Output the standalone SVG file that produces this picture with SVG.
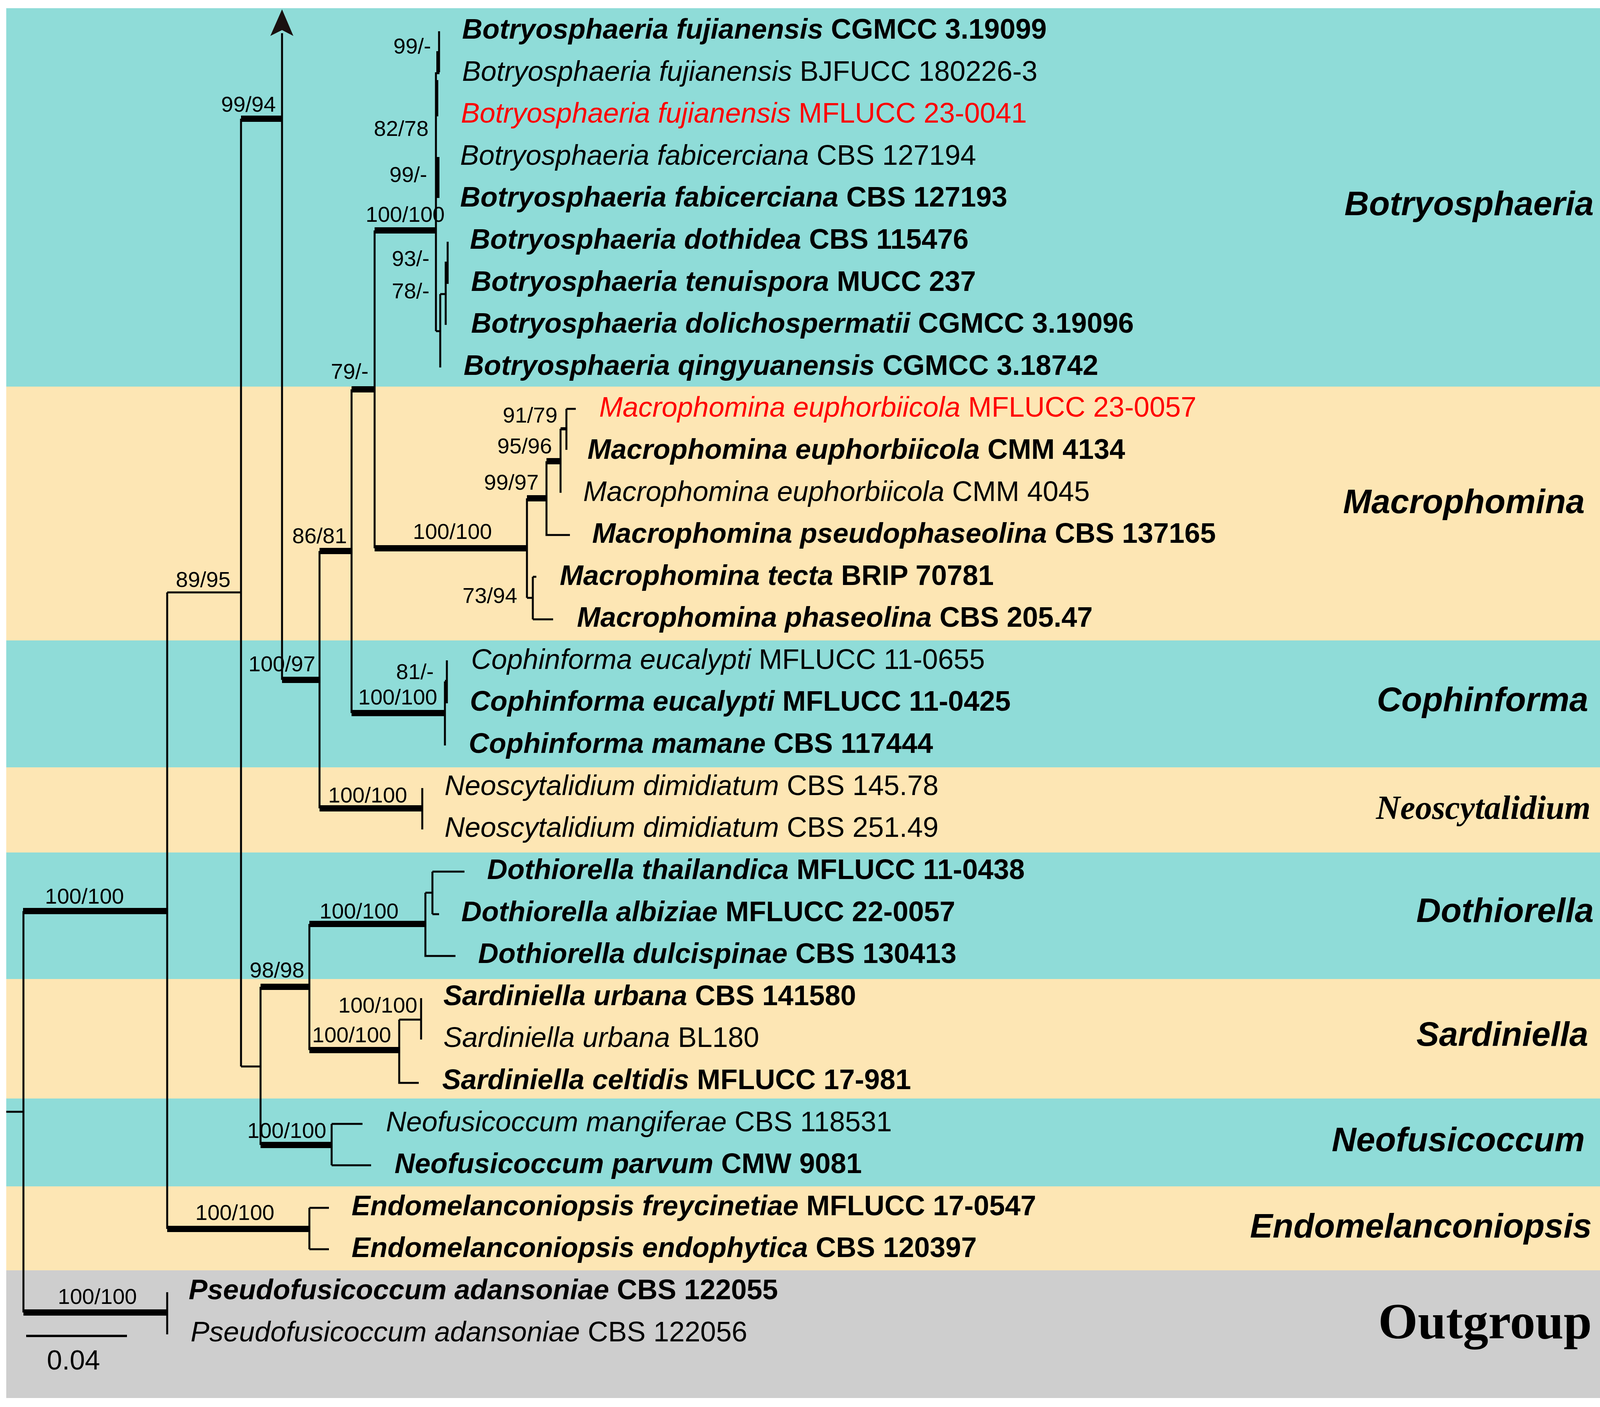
<svg xmlns="http://www.w3.org/2000/svg" width="4394" height="3603" viewBox="0 0 4394 3603">
<style>
.t{font-family:"Liberation Sans",Arial,sans-serif;font-size:72px;fill:#000}
.b{font-weight:bold}
.i{font-style:italic}
.red{fill:#FF0000}
.sup{font-family:"Liberation Sans",Arial,sans-serif;font-size:56px;fill:#000}
.cl{font-family:"Liberation Sans",Arial,sans-serif;font-size:87px;font-weight:bold;font-style:italic;fill:#000}
.cls{font-family:"Liberation Serif","Times New Roman",serif;font-weight:bold;fill:#000}
.thin{stroke:#000;stroke-width:5;fill:none}
.mid{stroke:#000;stroke-width:8;fill:none}
.thick{stroke:#000;stroke-width:16;fill:none}
.teal{fill:#8FDCD8}
.beige{fill:#FDE6B4}
.gray{fill:#CECECE}
</style>
<rect x="0" y="0" width="4394" height="3603" fill="#FFFFFF"/>
<g id="bands">
<rect class="teal" x="16" y="21" width="4351" height="970"/>
<rect class="beige" x="16" y="990" width="4351" height="651"/>
<rect class="teal" x="16" y="1640" width="4351" height="326"/>
<rect class="beige" x="16" y="1965" width="4351" height="219"/>
<rect class="teal" x="16" y="2183" width="4351" height="325"/>
<rect class="beige" x="16" y="2507" width="4351" height="307"/>
<rect class="teal" x="16" y="2813" width="4351" height="226"/>
<rect class="beige" x="16" y="3038" width="4351" height="216"/>
<rect class="gray" x="16" y="3253" width="4351" height="327"/>
</g>
<g id="connectors">
<path class="thin" d="M16,2847H60M60,2333V3361M428,3309V3417M428,1517V3147M428,1517H617M617,304V2731M722,85V1741M818,1411V2070M900,997V1826M959,590V1404"/>
<path class="thin" d="M1124,80V185M1116,185V848M1116,848H1127M1127,753V941M1127,753H1141M1141,670V832M1146,619V727"/>
<path class="mid" d="M1121,131V190M1118,205V298M1121,402V507M1144,670V727"/>
<path class="thin" d="M1349,1276V1531M1399,1181V1370H1459M1435,1098V1262M1450,1047V1152M1450,1047H1474M1349,1531H1364M1364,1477V1586M1364,1477H1373M1364,1586H1416"/>
<path class="thin" d="M1139,1745V1909M1144,1691V1801M1081,2018V2124"/>
<path class="thin" d="M617,2731H667M667,2527V2932M792,2366V2689M1089,2286V2448H1166M1089,2286H1107M1107,2232V2341M1107,2232H1189M1107,2341H1124"/>
<path class="thin" d="M1022,2611V2773H1072M1022,2611H1078M1078,2556V2662"/>
<path class="thin" d="M849,2878V2984M849,2878H928M849,2984H950M792,3093V3199M792,3093H842M792,3199H842"/>
<path class="thick" d="M59,2333H428M60,3361H428M617,304H722M722,1741H818M818,1411H900M818,2070H1081M900,997H959M959,590H1116M959,1404H1349M1349,1276H1399M1399,1181H1435M900,1826H1139M667,2527H792M792,2366H1089M792,2689H1022M667,2932H849M428,3147H792"/>
<path class="mid" d="M1435,1098H1450M1139,1745H1144"/>
<path stroke="#000" stroke-width="6" fill="none" d="M67,3421H325"/>
<polygon points="722,24 692,92 722,77 751,92" fill="#1a1010"/>
</g>
<g id="supports">
<text class="sup" x="148" y="3339">100/100</text>
<text class="sup" x="120" y="3507" style="font-size:70px">0.04</text>
<text class="sup" x="115" y="2314">100/100</text>
<text class="sup" x="450" y="1503">89/95</text>
<text class="sup" x="566" y="286">99/94</text>
<text class="sup" x="636" y="1719">100/97</text>
<text class="sup" x="748" y="1391">86/81</text>
<text class="sup" x="840" y="2055">100/100</text>
<text class="sup" x="847" y="970">79/-</text>
<text class="sup" x="936" y="568">100/100</text>
<text class="sup" x="1007" y="137">99/-</text>
<text class="sup" x="957" y="348">82/78</text>
<text class="sup" x="997" y="466">99/-</text>
<text class="sup" x="1003" y="681">93/-</text>
<text class="sup" x="1003" y="764">78/-</text>
<text class="sup" x="1057" y="1380">100/100</text>
<text class="sup" x="1239" y="1254">99/97</text>
<text class="sup" x="1273" y="1161">95/96</text>
<text class="sup" x="1287" y="1082">91/79</text>
<text class="sup" x="1184" y="1544">73/94</text>
<text class="sup" x="1014" y="1739">81/-</text>
<text class="sup" x="917" y="1804">100/100</text>
<text class="sup" x="639" y="2503">98/98</text>
<text class="sup" x="818" y="2352">100/100</text>
<text class="sup" x="866" y="2593">100/100</text>
<text class="sup" x="799" y="2669">100/100</text>
<text class="sup" x="633" y="2914">100/100</text>
<text class="sup" x="500" y="3124">100/100</text>
</g>
<g id="taxon-1"><text class="t b" x="1183" y="99"><tspan class="i">Botryosphaeria fujianensis</tspan> CGMCC 3.19099</text></g>
<g id="taxon-2"><text class="t" x="1183" y="207"><tspan class="i">Botryosphaeria fujianensis</tspan> BJFUCC 180226-3</text></g>
<g id="taxon-3"><text class="t red" x="1180" y="314"><tspan class="i">Botryosphaeria fujianensis</tspan> MFLUCC 23-0041</text></g>
<g id="taxon-4"><text class="t" x="1178" y="422"><tspan class="i">Botryosphaeria fabicerciana</tspan> CBS 127194</text></g>
<g id="taxon-5"><text class="t b" x="1178" y="529"><tspan class="i">Botryosphaeria fabicerciana</tspan> CBS 127193</text></g>
<g id="taxon-6"><text class="t b" x="1203" y="637"><tspan class="i">Botryosphaeria dothidea</tspan> CBS 115476</text></g>
<g id="taxon-7"><text class="t b" x="1206" y="745"><tspan class="i">Botryosphaeria tenuispora</tspan> MUCC 237</text></g>
<g id="taxon-8"><text class="t b" x="1206" y="852"><tspan class="i">Botryosphaeria dolichospermatii</tspan> CGMCC 3.19096</text></g>
<g id="taxon-9"><text class="t b" x="1187" y="960"><tspan class="i">Botryosphaeria qingyuanensis</tspan> CGMCC 3.18742</text></g>
<g id="taxon-10"><text class="t red" x="1534" y="1067"><tspan class="i">Macrophomina euphorbiicola</tspan> MFLUCC 23-0057</text></g>
<g id="taxon-11"><text class="t b" x="1504" y="1175"><tspan class="i">Macrophomina euphorbiicola</tspan> CMM 4134</text></g>
<g id="taxon-12"><text class="t" x="1493" y="1283"><tspan class="i">Macrophomina euphorbiicola</tspan> CMM 4045</text></g>
<g id="taxon-13"><text class="t b" x="1516" y="1390"><tspan class="i">Macrophomina pseudophaseolina</tspan> CBS 137165</text></g>
<g id="taxon-14"><text class="t b" x="1433" y="1498"><tspan class="i">Macrophomina tecta</tspan> BRIP 70781</text></g>
<g id="taxon-15"><text class="t b" x="1477" y="1605"><tspan class="i">Macrophomina phaseolina</tspan> CBS 205.47</text></g>
<g id="taxon-16"><text class="t" x="1206" y="1713"><tspan class="i">Cophinforma eucalypti</tspan> MFLUCC 11-0655</text></g>
<g id="taxon-17"><text class="t b" x="1203" y="1820"><tspan class="i">Cophinforma eucalypti</tspan> MFLUCC 11-0425</text></g>
<g id="taxon-18"><text class="t b" x="1200" y="1928"><tspan class="i">Cophinforma mamane</tspan> CBS 117444</text></g>
<g id="taxon-19"><text class="t" x="1138" y="2036"><tspan class="i">Neoscytalidium dimidiatum</tspan> CBS 145.78</text></g>
<g id="taxon-20"><text class="t" x="1138" y="2143"><tspan class="i">Neoscytalidium dimidiatum</tspan> CBS 251.49</text></g>
<g id="taxon-21"><text class="t b" x="1247" y="2251"><tspan class="i">Dothiorella thailandica</tspan> MFLUCC 11-0438</text></g>
<g id="taxon-22"><text class="t b" x="1181" y="2359"><tspan class="i">Dothiorella albiziae</tspan> MFLUCC 22-0057</text></g>
<g id="taxon-23"><text class="t b" x="1224" y="2466"><tspan class="i">Dothiorella dulcispinae</tspan> CBS 130413</text></g>
<g id="taxon-24"><text class="t b" x="1135" y="2574"><tspan class="i">Sardiniella urbana</tspan> CBS 141580</text></g>
<g id="taxon-25"><text class="t" x="1135" y="2681"><tspan class="i">Sardiniella urbana</tspan> BL180</text></g>
<g id="taxon-26"><text class="t b" x="1132" y="2789"><tspan class="i">Sardiniella celtidis</tspan> MFLUCC 17-981</text></g>
<g id="taxon-27"><text class="t" x="988" y="2897"><tspan class="i">Neofusicoccum mangiferae</tspan> CBS 118531</text></g>
<g id="taxon-28"><text class="t b" x="1010" y="3004"><tspan class="i">Neofusicoccum parvum</tspan> CMW 9081</text></g>
<g id="taxon-29"><text class="t b" x="900" y="3112"><tspan class="i">Endomelanconiopsis freycinetiae</tspan> MFLUCC 17-0547</text></g>
<g id="taxon-30"><text class="t b" x="900" y="3219"><tspan class="i">Endomelanconiopsis endophytica</tspan> CBS 120397</text></g>
<g id="taxon-31"><text class="t b" x="483" y="3327"><tspan class="i">Pseudofusicoccum adansoniae</tspan> CBS 122055</text></g>
<g id="taxon-32"><text class="t" x="488" y="3435"><tspan class="i">Pseudofusicoccum adansoniae</tspan> CBS 122056</text></g>
<g id="clade-botryosphaeria"><text class="cl" x="4080" y="551" text-anchor="end">Botryosphaeria</text></g>
<g id="clade-macrophomina"><text class="cl" x="4057" y="1314" text-anchor="end">Macrophomina</text></g>
<g id="clade-cophinforma"><text class="cl" x="4066" y="1821" text-anchor="end">Cophinforma</text></g>
<g id="clade-neoscytalidium"><text class="cls" x="4072" y="2097" text-anchor="end" style="font-size:86px;font-style:italic">Neoscytalidium</text></g>
<g id="clade-dothiorella"><text class="cl" x="4080" y="2361" text-anchor="end">Dothiorella</text></g>
<g id="clade-sardiniella"><text class="cl" x="4066" y="2678" text-anchor="end">Sardiniella</text></g>
<g id="clade-neofusicoccum"><text class="cl" x="4057" y="2948" text-anchor="end">Neofusicoccum</text></g>
<g id="clade-endomelanconiopsis"><text class="cl" x="4075" y="3169" text-anchor="end">Endomelanconiopsis</text></g>
<g id="clade-outgroup"><text class="cls" x="4075" y="3427" text-anchor="end" style="font-size:130px">Outgroup</text></g>
</svg>
